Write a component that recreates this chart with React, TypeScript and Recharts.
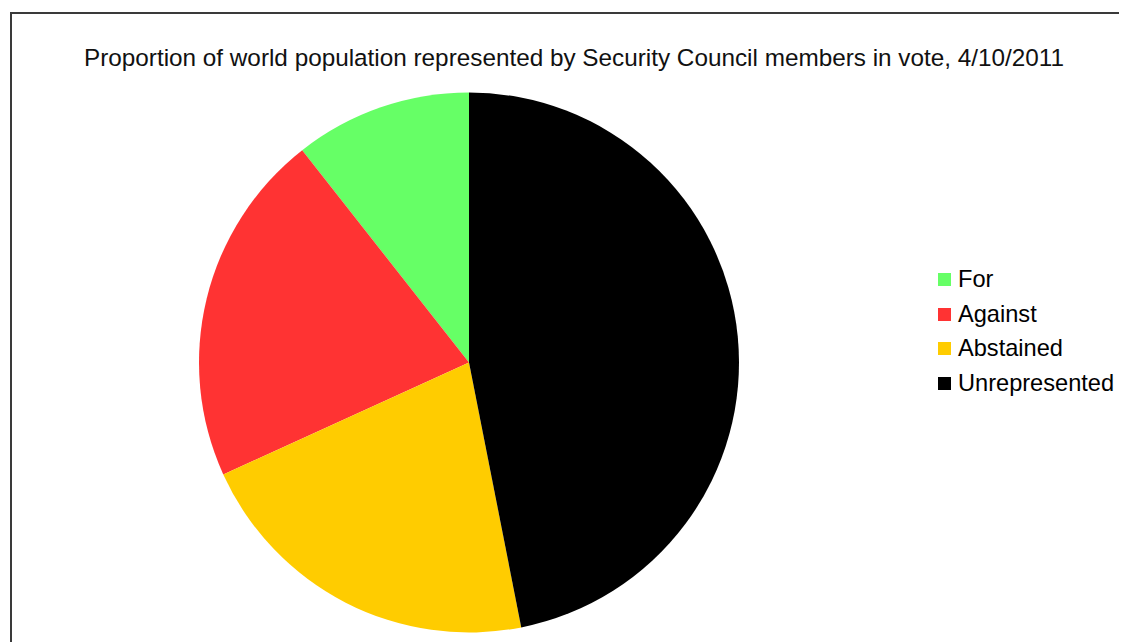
import { Cell, Legend, Pie, PieChart } from "recharts";

// shares of world population (%)
const names = ["For", "Against", "Abstained", "Unrepresented"];
const shares = [10.6, 21.2, 21.3, 46.9];
const colors = ["#66ff66", "#ff3333", "#ffcc00", "#000000"];

const data = names.map((name, i) => ({ name, value: shares[i] }));

const font = "'Liberation Sans', Arial, sans-serif";

function LegendBox() {
    return (
        <div style={{ fontFamily: font, fontSize: 23.6, color: "#000" }}>
            {names.map((n, i) => (
                <div key={n} style={{ display: "flex", alignItems: "center", height: 34.7 }}>
                    <span style={{ width: 13, height: 13, background: colors[i], marginRight: 7, display: "inline-block" }} />
                    <span>{n}</span>
                </div>
            ))}
        </div>
    );
}

export default function App() {
    return (
        <div style={{ position: "relative", width: 1119, height: 634, overflow: "hidden", background: "#fff" }}>
            <div style={{ position: "absolute", left: 2, top: 4, width: 1200, height: 700, border: "2px solid #3a3a3a", boxSizing: "border-box" }} />
            <div style={{ position: "absolute", left: 0, width: 1132, top: 36, textAlign: "center", fontFamily: font, fontSize: 24.3, lineHeight: "27px", color: "#111" }}>
                Proportion of world population represented by Security Council members in vote, 4/10/2011
            </div>
            <div style={{ position: "absolute", left: 0, top: 0 }}>
                <PieChart width={1119} height={634}>
                    <Pie
                        data={data}
                        dataKey="value"
                        nameKey="name"
                        cx={456}
                        cy={349.5}
                        outerRadius={270}
                        startAngle={90}
                        endAngle={450}
                        stroke="none"
                        isAnimationActive={false}
                    >
                        {data.map((d, i) => (
                            <Cell key={d.name} fill={colors[i]} />
                        ))}
                    </Pie>
                    <Legend
                        layout="vertical"
                        content={<LegendBox />}
                        wrapperStyle={{ left: 930, top: 254, width: 200 }}
                    />
                </PieChart>
            </div>
        </div>
    );
}
